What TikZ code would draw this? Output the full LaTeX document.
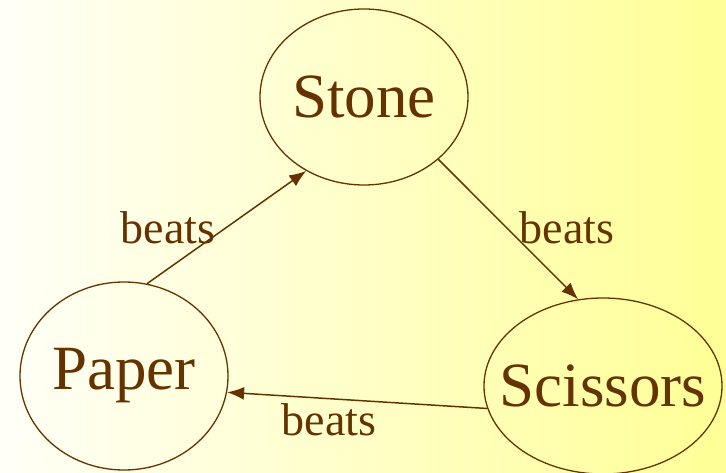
\documentclass[tikz,border=0pt]{standalone}
\usepackage{fontspec}
\setmainfont{Liberation Serif}
\usetikzlibrary{shapes.geometric,arrows.meta}
\definecolor{brn}{RGB}{102,51,0}
\definecolor{bgl}{RGB}{255,255,248}
\definecolor{bgr}{RGB}{255,255,150}
\begin{document}
\begin{tikzpicture}[x=1pt,y=1pt,
  item/.style={ellipse,draw=brn,line width=1.3pt,inner sep=0pt,
    label={[text=brn,inner sep=0pt,font=\fontsize{63}{70}\selectfont]center:#1}},
  beatlabel/.style={text=brn,inner sep=0pt,font=\fontsize{46}{50}\selectfont},
  arr/.style={draw=brn,line width=1.5pt,-{Latex[length=17pt,width=13pt]}}]
\shade[left color=bgl,right color=bgr] (0,0) rectangle (726,472);
\useasboundingbox (0,0) rectangle (726,472);
\node[item=Stone,minimum width=208pt,minimum height=176pt] (stone) at (364,375) {};
\node[item=Paper,minimum width=208pt,minimum height=188pt] (paper) at (124,96) {};
\node[item=Scissors,minimum width=238pt,minimum height=176pt] (scissors) at (603,86) {};
\draw[arr] (stone.-40) -- (scissors.106);
\draw[arr] (paper.76) -- (stone.232);
\draw[arr] (scissors.191) -- (paper.-9);
\node[beatlabel] (b1) at (168,244) {beats};
\node[beatlabel] (b2) at (567,244) {beats};
\node[beatlabel] (b3) at (329,52) {beats};
\end{tikzpicture}
\end{document}
